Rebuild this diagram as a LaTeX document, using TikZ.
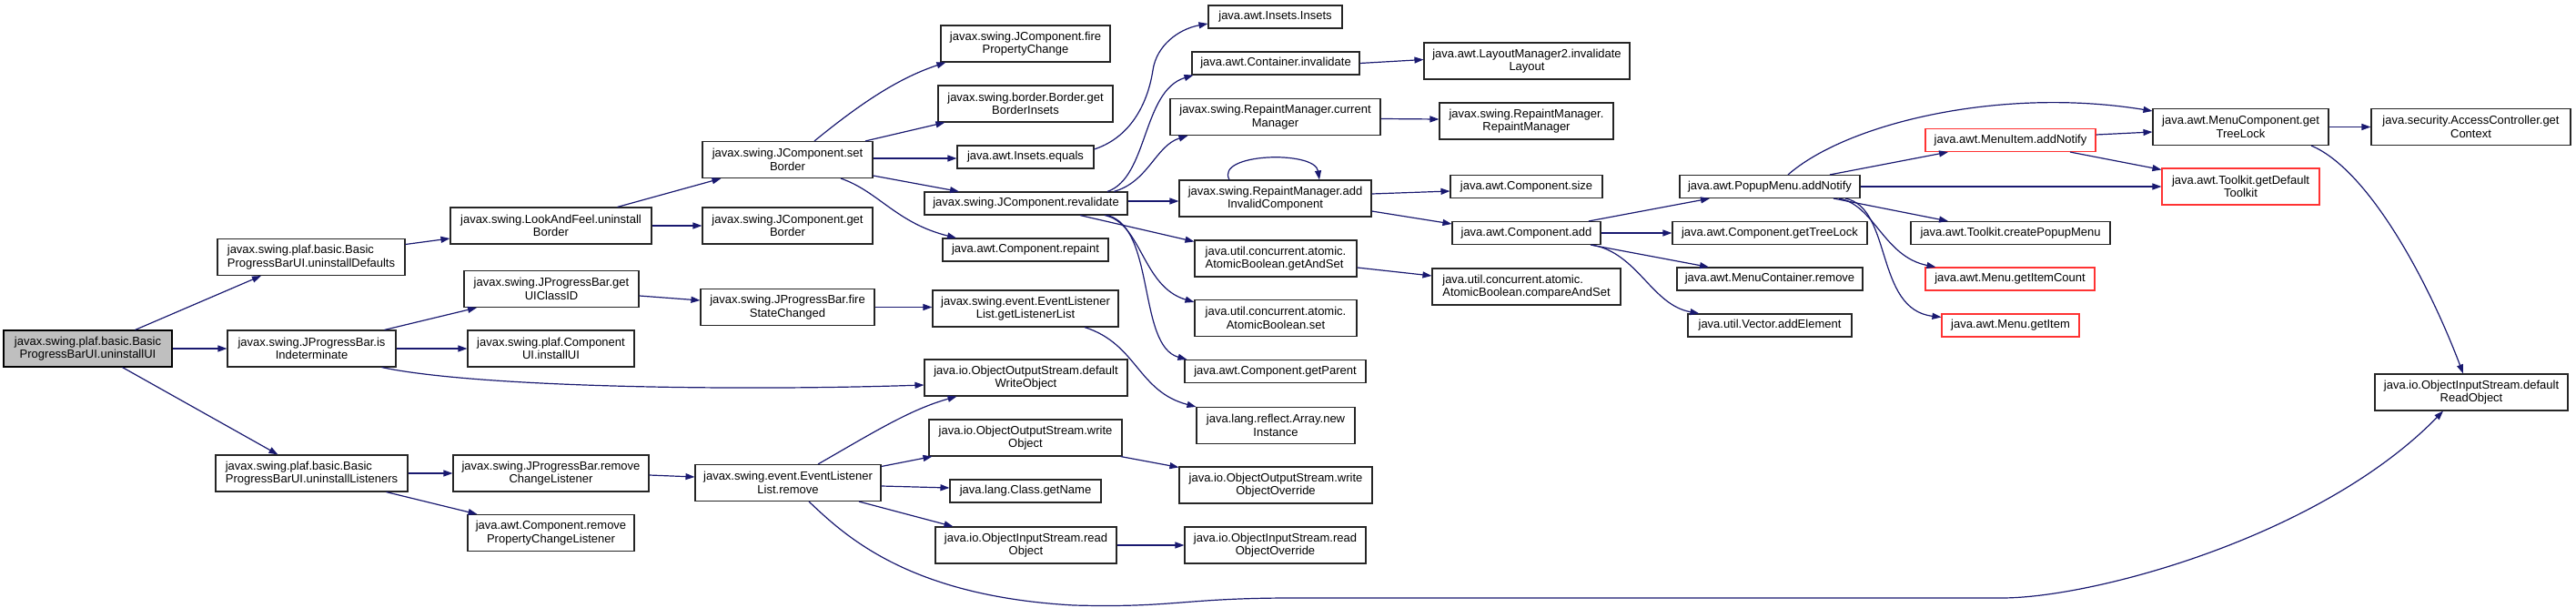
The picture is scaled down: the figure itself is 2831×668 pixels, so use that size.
\documentclass[tikz,border=0pt]{standalone}
\usepackage{fontspec}
\setmainfont{Liberation Sans}
\usetikzlibrary{arrows.meta}
\definecolor{edgeblue}{HTML}{191970}
\definecolor{nodered}{HTML}{FF3333}
\definecolor{rootgray}{HTML}{BFBFBF}
\begin{document}
\begin{tikzpicture}[x=1pt,y=-1pt,
  box/.style={draw=black!85, fill=white, line width=1.1pt, inner sep=0pt, align=center,
              font=\fontsize{13}{14.5}\selectfont},
  rootbox/.style={box, fill=rootgray, draw=black},
  redbox/.style={box, draw=nodered},
  two/.style={minimum height=40},
  one/.style={minimum height=25},
  call/.style={draw=edgeblue, line width=1.2pt, -{Triangle[length=10pt,width=7pt]}}]
\useasboundingbox (0,0) rectangle (2831,668);

% column 1-3
\node[rootbox, two, minimum width=185] (root) at (96.5,383) {javax.swing.plaf.basic.Basic\\ProgressBarUI.uninstallUI};
\node[box, two, minimum width=206, align=left] (udef) at (342,282.5) {javax.swing.plaf.basic.Basic\\ProgressBarUI.uninstallDefaults};
\node[box, two, minimum width=185] (isind) at (342.5,383) {javax.swing.JProgressBar.is\\Indeterminate};
\node[box, two, minimum width=211, align=left] (ulis) at (342.5,520) {javax.swing.plaf.basic.Basic\\ProgressBarUI.uninstallListeners};
\node[box, two, minimum width=221] (laf) at (605.5,248) {javax.swing.LookAndFeel.uninstall\\Border};
\node[box, two, minimum width=192] (uicid) at (606,317.5) {javax.swing.JProgressBar.get\\UIClassID};
\node[box, two, minimum width=183] (instui) at (605.5,383) {javax.swing.plaf.Component\\UI.installUI};
\node[box, two, minimum width=215] (rcl) at (605.5,520) {javax.swing.JProgressBar.remove\\ChangeListener};
\node[box, two, minimum width=183] (rpcl) at (605.5,585.5) {java.awt.Component.remove\\PropertyChangeListener};
% column 4
\node[box, two, minimum width=187] (setb) at (865.5,175.5) {javax.swing.JComponent.set\\Border};
\node[box, two, minimum width=187] (getb) at (865.5,248) {javax.swing.JComponent.get\\Border};
\node[box, two, minimum width=191] (fsc) at (865.5,337.5) {javax.swing.JProgressBar.fire\\StateChanged};
\node[box, two, minimum width=204] (rem) at (866,530.5) {javax.swing.event.EventListener\\List.remove};
% column 5
\node[box, two, minimum width=186] (fpc) at (1127,48) {javax.swing.JComponent.fire\\PropertyChange};
\node[box, two, minimum width=192] (gbi) at (1127,114) {javax.swing.border.Border.get\\BorderInsets};
\node[box, one, minimum width=150] (ieq) at (1127,172.5) {java.awt.Insets.equals};
\node[box, one, minimum width=223] (rev) at (1127.5,223.5) {javax.swing.JComponent.revalidate};
\node[box, one, minimum width=182] (rep) at (1127,274.5) {java.awt.Component.repaint};
\node[box, two, minimum width=204] (gll) at (1127,339) {javax.swing.event.EventListener\\List.getListenerList};
\node[box, two, minimum width=223] (dwo) at (1127.5,415) {java.io.ObjectOutputStream.default\\WriteObject};
\node[box, two, minimum width=212] (wo) at (1127,481) {java.io.ObjectOutputStream.write\\Object};
\node[box, one, minimum width=166] (gn) at (1127,539.5) {java.lang.Class.getName};
\node[box, two, minimum width=199] (ro) at (1127.5,599) {java.io.ObjectInputStream.read\\Object};
% column 6
\node[box, one, minimum width=147] (ins) at (1401.5,18.5) {java.awt.Insets.Insets};
\node[box, one, minimum width=184] (cinv) at (1402,69.5) {java.awt.Container.invalidate};
\node[box, two, minimum width=231] (cm) at (1401.5,128.5) {javax.swing.RepaintManager.current\\Manager};
\node[box, two, minimum width=211] (aic) at (1401.5,218) {javax.swing.RepaintManager.add\\InvalidComponent};
\node[box, two, minimum width=178, align=left] (gas) at (1402,284) {java.util.concurrent.atomic.\\AtomicBoolean.getAndSet};
\node[box, two, minimum width=178] (aset) at (1402,349.5) {java.util.concurrent.atomic.\\AtomicBoolean.set};
\node[box, one, minimum width=199] (gp) at (1401.5,408) {java.awt.Component.getParent};
\node[box, two, minimum width=174] (ani) at (1402,467.5) {java.lang.reflect.Array.new\\Instance};
\node[box, two, minimum width=212] (woo) at (1402,533) {java.io.ObjectOutputStream.write\\ObjectOverride};
\node[box, two, minimum width=199] (roo) at (1401.5,599) {java.io.ObjectInputStream.read\\ObjectOverride};
% column 7
\node[box, two, minimum width=226] (il) at (1678,67) {java.awt.LayoutManager2.invalidate\\Layout};
\node[box, two, minimum width=191] (rmrm) at (1677.5,133) {javax.swing.RepaintManager.\\RepaintManager};
\node[box, one, minimum width=167] (csize) at (1677.5,205) {java.awt.Component.size};
\node[box, one, minimum width=163] (cadd) at (1677.5,256) {java.awt.Component.add};
\node[box, two, minimum width=207, align=left] (cas) at (1677.5,315) {java.util.concurrent.atomic.\\AtomicBoolean.compareAndSet};
% column 8
\node[box, one, minimum width=198] (pan) at (1945,205) {java.awt.PopupMenu.addNotify};
\node[box, one, minimum width=214] (gtl) at (1945,256) {java.awt.Component.getTreeLock};
\node[box, one, minimum width=204] (mcr) at (1945,306.5) {java.awt.MenuContainer.remove};
\node[box, one, minimum width=180] (vae) at (1945,357.5) {java.util.Vector.addElement};
% column 9
\node[redbox, one, minimum width=187] (mian) at (2209.5,154) {java.awt.MenuItem.addNotify};
\node[box, one, minimum width=219] (cpm) at (2209.5,256) {java.awt.Toolkit.createPopupMenu};
\node[redbox, one, minimum width=186] (gic) at (2209,306.5) {java.awt.Menu.getItemCount};
\node[redbox, one, minimum width=151] (gi) at (2209.5,357.5) {java.awt.Menu.getItem};
% column 10-11
\node[box, two, minimum width=193] (mcgtl) at (2462.5,139.5) {java.awt.MenuComponent.get\\TreeLock};
\node[redbox, two, minimum width=173] (tgdt) at (2462.5,205) {java.awt.Toolkit.getDefault\\Toolkit};
\node[box, two, minimum width=219] (acgc) at (2715.5,139.5) {java.security.AccessController.get\\Context};
\node[box, two, minimum width=212] (dro) at (2716,431) {java.io.ObjectInputStream.default\\ReadObject};

% edges
\draw[call] ([xshift=52]root.north) -- ([xshift=-55]udef.south);
\draw[call] (root.east) -- (isind.west);
\draw[call] ([xshift=38]root.south) -- ([xshift=-37]ulis.north);
\draw[call] ([yshift=14]udef.east) -- ([yshift=-14]laf.west);
\draw[call] ([xshift=73]laf.north) -- ([xshift=-73]setb.south);
\draw[call] (laf.east) -- (getb.west);
\draw[call] ([xshift=80]isind.north) -- ([xshift=-82]uicid.south);
\draw[call] (isind.east) -- (instui.west);
\draw[call] ([xshift=77]isind.south) .. controls (520,425) and (800,430) .. ([yshift=-8]dwo.west);
\draw[call] ([yshift=-7.5]uicid.east) -- ([yshift=7.5]fsc.west);
\draw[call] (fsc.east) -- ([yshift=1.5]gll.west);
\draw[call] ([xshift=65]gll.south) .. controls (1250,378) and (1250,430) .. (ani.north west);
\draw[call] (ulis.east) -- (rcl.west);
\draw[call] ([xshift=82]ulis.south) -- ([xshift=-81]rpcl.north);
\draw[call] ([yshift=-2]rcl.east) -- ([yshift=6.5]rem.west);
\draw[call] ([xshift=33]rem.north) .. controls (960,475) and (1000,450) .. ([xshift=-76]dwo.south);
\draw[call] ([yshift=18]rem.east) -- ([xshift=4]wo.south west);
\draw[call] ([yshift=-3.5]rem.east) -- ([yshift=3.5]gn.west);
\draw[call] ([xshift=78]rem.south) -- ([xshift=-80]ro.north);
\draw[call] ([xshift=23]rem.south) .. controls (930,590) and (1000,655) .. (1180,665)
   .. controls (1290,668) and (1300,657) .. (1420,657) -- (2200,657)
   .. controls (2300,657) and (2550,590) .. ([xshift=-31]dro.south);
\draw[call] ([xshift=-2]wo.south east) -- ([yshift=-1]woo.north west);
\draw[call] (ro.east) -- (roo.west);
\draw[call] ([xshift=29.5]setb.north) .. controls (950,110) and (990,85) .. ([xshift=6]fpc.south west);
\draw[call] ([xshift=85.5]setb.north) -- ([xshift=8]gbi.south west);
\draw[call] ([yshift=1.5]setb.east) -- ([yshift=-1.5]ieq.west);
\draw[call] ([yshift=-17.5]setb.east) -- ([xshift=-73.5]rev.north);
\draw[call] ([xshift=58.5]setb.south) .. controls (965,210) and (985,245) .. ([xshift=-76]rep.north);
\draw[call] ([yshift=8.5]ieq.east) .. controls (1245,150) and (1262,110) .. (1267,77)
   .. controls (1271,50) and (1295,32) .. ([yshift=-7.5]ins.west);
\draw[call] ([xshift=89.5]rev.north) .. controls (1262,195) and (1255,100) .. ([xshift=2]cinv.south west);
\draw[call] ([xshift=96.5]rev.north) .. controls (1262,200) and (1270,160) .. ([xshift=20]cm.south west);
\draw[call] ([yshift=2.5]rev.east) -- ([yshift=-3]aic.west);
\draw[call] ([xshift=59.5]rev.south) -- ([yshift=-2]gas.north west);
\draw[call] ([xshift=86.5]rev.south) .. controls (1255,245) and (1255,315) .. ([yshift=-3]aset.north west);
\draw[call] ([xshift=89.5]rev.south) .. controls (1270,250) and (1250,380) .. ([xshift=3]gp.north west);
\draw[call] (cinv.east) -- ([yshift=1.5]il.west);
\draw[call] ([yshift=-2]cm.east) -- ([yshift=2]rmrm.west);
\draw[call] ([xshift=-50.5]aic.north) .. controls (1335,168) and (1445,165) .. ([xshift=48.5]aic.north);
\draw[call] ([yshift=5]aic.east) -- ([yshift=-5]csize.west);
\draw[call] ([yshift=-14]aic.east) -- ([yshift=10]cadd.west);
\draw[call] ([yshift=-10]gas.east) -- ([yshift=12]cas.west);
\draw[call] ([xshift=68.5]cadd.north) -- ([xshift=-66]pan.south);
\draw[call] (cadd.east) -- (gtl.west);
\draw[call] ([xshift=70.5]cadd.south) -- ([xshift=-67]mcr.north);
\draw[call] ([xshift=72]cadd.south) .. controls (1800,278) and (1815,335) .. ([xshift=13]vae.north west);
\draw[call] ([xshift=20]pan.north) .. controls (2030,135) and (2200,95) .. ([yshift=17.5]mcgtl.west);
\draw[call] ([xshift=66]pan.north) -- ([xshift=-68.5]mian.south);
\draw[call] (pan.east) -- (tgdt.west);
\draw[call] ([xshift=70]pan.south) -- ([xshift=-68.5]cpm.north);
\draw[call] ([xshift=76]pan.south) .. controls (2060,225) and (2070,282) .. ([xshift=12]gic.north west);
\draw[call] ([xshift=83]pan.south) .. controls (2080,228) and (2060,340) .. ([yshift=-4]gi.north west);
\draw[call] ([yshift=6]mian.east) -- ([yshift=-5.5]mcgtl.west);
\draw[call] ([xshift=65.5]mian.south) -- ([yshift=-2]tgdt.north west);
\draw[call] (mcgtl.east) -- (acgc.west);
\draw[call] ([xshift=77.5]mcgtl.south) .. controls (2600,185) and (2665,300) .. ([xshift=-9]dro.north);
\end{tikzpicture}
\end{document}
